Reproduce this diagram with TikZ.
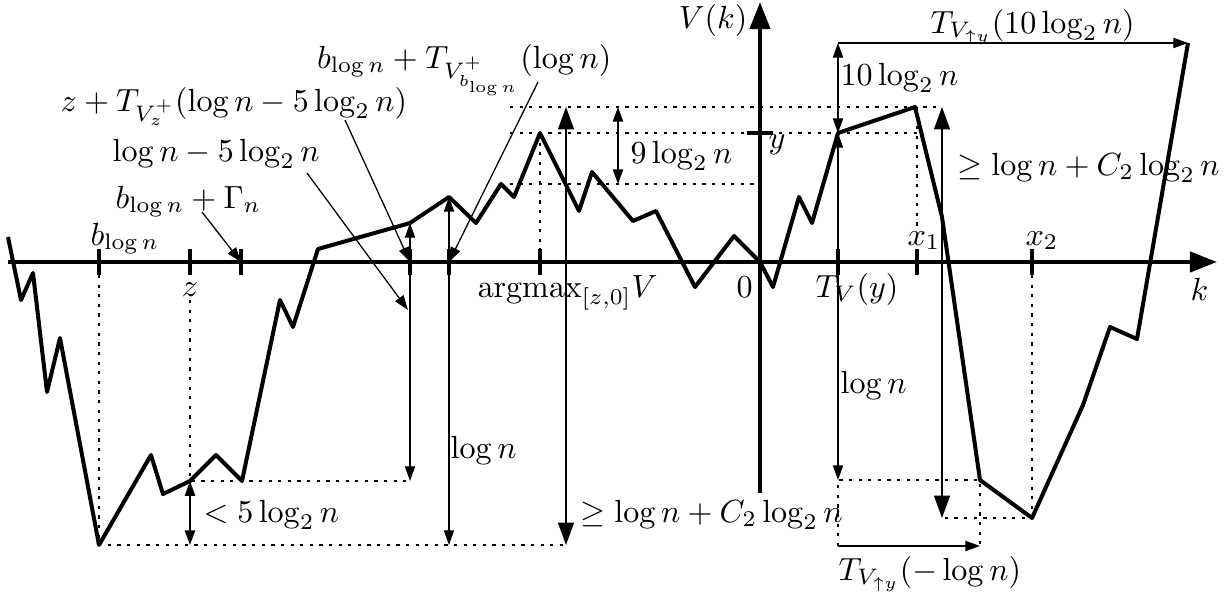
\documentclass[tikz,border=0pt]{standalone}
\usetikzlibrary{arrows.meta}
\begin{document}
\begin{tikzpicture}[x=0.312pt, y=-0.312pt, >={Triangle[length=4.6pt,width=3.2pt]},
  every node/.style={inner sep=0pt},
  walk/.style={line width=1.25pt, line join=round},
  axis/.style={line width=1.25pt, -{Triangle[length=8.5pt,width=6.3pt]}},
  tick/.style={line width=1.25pt},
  guide/.style={thin, dash pattern=on 1pt off 2pt},
  meas/.style={thin, <->},
  bigmeas/.style={thin, {Triangle[length=7pt,width=5pt]}-{Triangle[length=7pt,width=5pt]}},
  pointer/.style={thin, ->}]
  \useasboundingbox (0,0) rectangle (1225,601);

  % key points
  \coordinate (minpt) at (99,545);
  \coordinate (zpt) at (190,481);
  \coordinate (hitA) at (410,223);
  \coordinate (hitB) at (449,197);
  \coordinate (peak) at (540,133);
  \coordinate (ypt) at (838,133);
  \coordinate (x1pt) at (915,107);
  \coordinate (lowA) at (980,480);
  \coordinate (x2pt) at (1032,518);
  \coordinate (endpt) at (1188,43);
  \coordinate (top) at (838,43);

  % axes
  \draw[axis] (8,262) -- (1217,262);
  \draw[axis] (760,493) -- (760,2);
  \foreach \x in {99,190,241,410,449,540,838,917,1032}
    \draw[tick] (\x,249) -- (\x,275);
  \draw[tick] (747,133) -- (773,133);

  % the walk
  \draw[walk] (8,237) -- (21,300) -- (33,273) -- (47,392) -- (60,338) -- (minpt)
    -- (151,455) -- (163,494) -- (zpt) -- (216,455) -- (242,481) -- (280,300)
    -- (293,327) -- (318,249) -- (hitA) -- (hitB) -- (476,223) -- (501,184)
    -- (514,197) -- (peak) -- (579,211) -- (592,172) -- (633,221) -- (656,211)
    -- (695,287) -- (734,236) -- (760,262) -- (773,287) -- (799,197) -- (812,223)
    -- (ypt) -- (x1pt) -- (942,217) -- (lowA) -- (x2pt) -- (1083,405) -- (1110,327)
    -- (1137,339) -- (endpt);

  % guides
  \draw[guide] (99,275) -- (minpt) -- (566,545);
  \draw[guide] (190,300) -- (zpt) -- (410,481);
  \draw[guide] (peak) -- (540,249);
  \draw[guide] (510,107) -- (942,107);
  \draw[guide] (510,133) -- (917,133);
  \draw[guide] (510,184) -- (760,184);
  \draw[guide] (917,107) -- (917,228);
  \draw[guide] (1032,275) -- (x2pt) -- (942,518);
  \draw[guide] (838,546) -- (838,480) -- (lowA) -- (980,546);

  % measurements
  \draw[meas] (hitA) -- (410,481);
  \draw[meas] (hitB) -- (449,545);
  \draw[bigmeas] (566,107) -- (566,545);
  \draw[meas, semithick] (618,107) -- (618,184);
  \draw[meas, semithick] (zpt) -- (190,545);
  \draw[meas] (top) -- (ypt);
  \draw[meas] (ypt) -- (838,480);
  \draw[bigmeas] (942,107) -- (942,518);
  \draw[->] (top) -- (endpt);
  \draw[->] (838,546) -- (980,546);

  % labels
  \node[anchor=base west] (lzT) at (60,111) {$z+T_{V_z^+}(\log n-5\log_2 n)$};
  \node[anchor=base east] (lbT) at (612,68) {$b_{\log n}+T_{V^+_{b_{\log n}}}(\log n)$};
  \node[anchor=base west] (ldiff) at (112,161) {$\log n-5\log_2 n$};
  \node[anchor=base west] (lbG) at (115,208) {$b_{\log n}+\Gamma_n$};
  \node[anchor=base west] (lb) at (90,245) {$b_{\log n}$};
  \node[anchor=base] (lz) at (190,296) {$z$};
  \node[anchor=base west] (largmax) at (477,297) {$\mathrm{argmax}_{[z,0]}V$};
  \node[anchor=base west] (lzero) at (736,297) {$0$};
  \node[anchor=base west] (lTVy) at (815,297) {$T_V(y)$};
  \node[anchor=base west] (lk) at (1190,300) {$k$};
  \node[anchor=base west] (lx1) at (907,245) {$x_1$};
  \node[anchor=base west] (lx2) at (1025,245) {$x_2$};
  \node[anchor=base west] (ly) at (768,148) {$y$};
  \node[anchor=base east] (lVk) at (748,28) {$V(k)$};
  \node[anchor=base west] (l9) at (630,163) {$9\log_2 n$};
  \node[anchor=base west] (l10) at (840,85) {$10\log_2 n$};
  \node[anchor=base west] (lT10) at (930,33) {$T_{V_{\uparrow y}}(10\log_2 n)$};
  \node[anchor=base west] (lgeR) at (957,175) {$\geq\log n+C_2\log_2 n$};
  \node[anchor=base west] (lgeB) at (580,522) {$\geq\log n+C_2\log_2 n$};
  \node[anchor=base west] (llogB) at (450,458) {$\log n$};
  \node[anchor=base west] (l5) at (203,522) {$<5\log_2 n$};
  \node[anchor=base west] (llogR) at (840,393) {$\log n$};
  \node[anchor=base west] (lTm) at (838,580) {$T_{V_{\uparrow y}}(-\log n)$};

  % pointers
  \coordinate (pzT) at (345,120);
  \coordinate (pbT) at (538,82);
  \coordinate (pdiff) at (307,173);
  \coordinate (pbG) at (202,212);
  \draw[pointer] (pzT) -- (410,262);
  \draw[pointer] (pbT) -- (449,262);
  \draw[pointer] (pdiff) -- (408,310);
  \draw[pointer] (pbG) -- (241,262);
\end{tikzpicture}
\end{document}
